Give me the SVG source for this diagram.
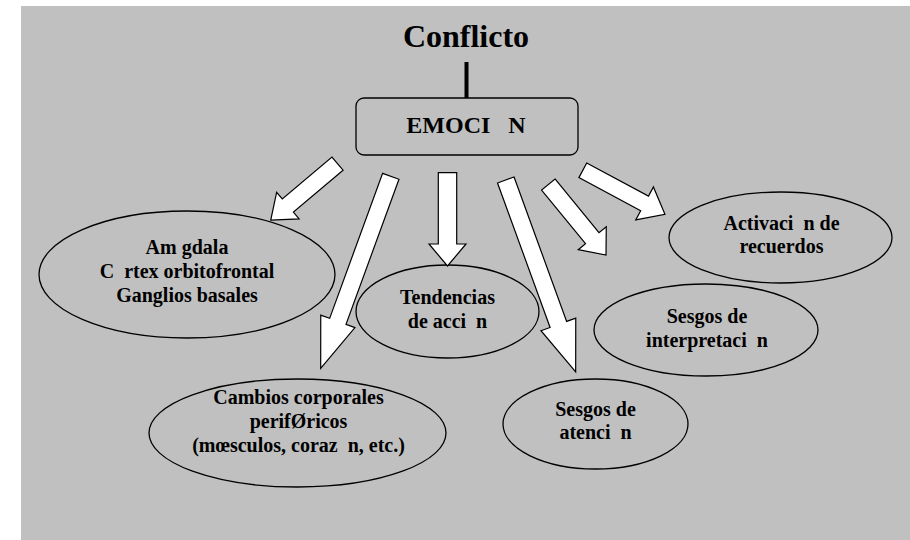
<svg xmlns="http://www.w3.org/2000/svg" width="910" height="540" viewBox="0 0 910 540">
<style>
  .bg { fill: #c0c0c0; }
  .node { fill: none; stroke: #000; stroke-width: 1.3; }
  .arrow { fill: #fff; stroke: #000; stroke-width: 1.2; stroke-linejoin: miter; }
  text { font-family: "Liberation Serif", "Times New Roman", serif; font-weight: bold; fill: #000; text-anchor: middle; white-space: pre; }
  .t { font-size: 20px; }
</style>
<rect class="bg" x="21" y="6" width="889" height="534"/>

<g id="conflicto">
  <text x="466" y="47" font-size="32">Conflicto</text>
</g>

<g id="emocion">
  <rect class="node" x="356" y="98" width="222" height="57" rx="8" ry="8"/>
  <text x="466" y="133" font-size="24">EMOCI   N</text>
</g>

<g id="amigdala">
  <ellipse class="node" cx="187" cy="274.5" rx="148" ry="63.5"/>
  <text class="t" x="187" y="254">Am gdala</text>
  <text class="t" x="187" y="278">C  rtex orbitofrontal</text>
  <text class="t" x="187" y="302">Ganglios basales</text>
</g>

<g id="cambios">
  <ellipse class="node" cx="297.5" cy="433" rx="148.5" ry="54"/>
  <text class="t" x="298.5" y="404">Cambios corporales</text>
  <text class="t" x="298.5" y="428">perifØricos</text>
  <text class="t" x="298.5" y="452">(mœsculos, coraz  n, etc.)</text>
</g>

<g id="tendencias">
  <ellipse class="node" cx="447.5" cy="311.5" rx="91.5" ry="46.5"/>
  <text class="t" x="447.5" y="304">Tendencias</text>
  <text class="t" x="447.5" y="328">de acci  n</text>
</g>

<g id="atencion">
  <ellipse class="node" cx="595.5" cy="424" rx="92.5" ry="45"/>
  <text class="t" x="595.5" y="416">Sesgos de</text>
  <text class="t" x="595.5" y="439">atenci  n</text>
</g>

<g id="interpretacion">
  <ellipse class="node" cx="706" cy="330" rx="112" ry="46"/>
  <text class="t" x="707" y="323">Sesgos de</text>
  <text class="t" x="707" y="347">interpretaci  n</text>
</g>

<g id="recuerdos">
  <ellipse class="node" cx="780.5" cy="237.5" rx="111.5" ry="45.5"/>
  <text class="t" x="781.5" y="230">Activaci  n de</text>
  <text class="t" x="781.5" y="253">recuerdos</text>
</g>

<g id="connectors">
  <line x1="466.5" y1="62" x2="466.5" y2="98" stroke="#000" stroke-width="4"/>
  <polygon class="arrow" transform="translate(337.5,163.6) rotate(139.8)" points="0,-8.6 65,-8.6 65,-17.4 87.4,0 65,17.4 65,8.6 0,8.6"/>
  <polygon class="arrow" transform="translate(390.8,176.3) rotate(110.06)" points="0,-8.7 154.4,-8.7 154.4,-18.2 204.4,0 154.4,18.2 154.4,8.7 0,8.7"/>
  <polygon class="arrow" transform="translate(447.5,172.7) rotate(90)" points="0,-9.2 71.3,-9.2 71.3,-18.5 93.3,0 71.3,18.5 71.3,9.2 0,9.2"/>
  <polygon class="arrow" transform="translate(505.8,180) rotate(70)" points="0,-8.8 153.7,-8.8 153.7,-18.5 204.3,0 153.7,18.5 153.7,8.8 0,8.8"/>
  <polygon class="arrow" transform="translate(548.3,184.5) rotate(50.7)" points="0,-8.7 69.4,-8.7 69.4,-18.1 91.1,0 69.4,18.1 69.4,8.7 0,8.7"/>
  <polygon class="arrow" transform="translate(582.8,170.3) rotate(28.2)" points="0,-8.3 70.1,-8.3 70.1,-18.7 93.2,0 70.1,18.7 70.1,8.3 0,8.3"/>
</g>
</svg>
